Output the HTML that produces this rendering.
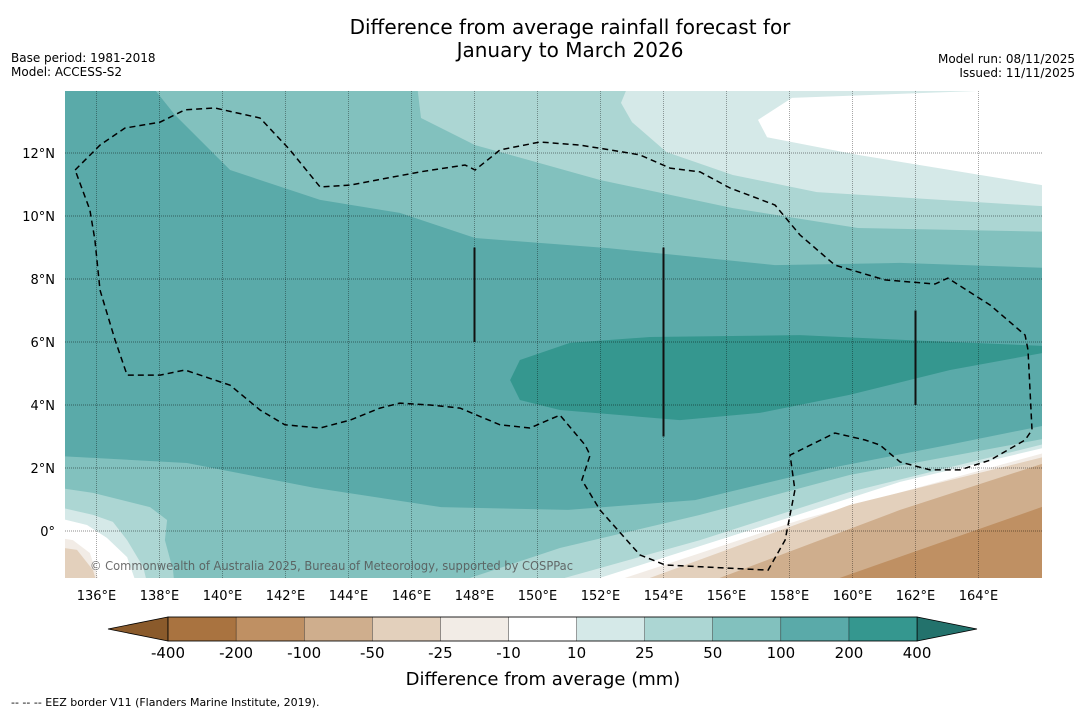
<!DOCTYPE html>
<html><head><meta charset="utf-8"><style>
body{margin:0;background:#fff;width:1085px;height:713px;overflow:hidden;font-family:"Liberation Sans","DejaVu Sans",sans-serif}
svg text{font-family:"DejaVu Sans","Liberation Sans",sans-serif}
</style></head><body>
<svg id="chart" width="1085" height="713" viewBox="0 0 1085 713" xmlns="http://www.w3.org/2000/svg">
<text x="570" y="34" font-size="20" text-anchor="middle">Difference from average rainfall forecast for</text>
<text x="570" y="57" font-size="20" text-anchor="middle">January to March 2026</text>
<text x="11" y="62" font-size="12">Base period: 1981-2018</text>
<text x="11" y="76" font-size="12">Model: ACCESS-S2</text>
<text x="1075" y="63" font-size="12" text-anchor="end">Model run: 08/11/2025</text>
<text x="1075" y="77" font-size="12" text-anchor="end">Issued: 11/11/2025</text>
<defs><clipPath id="mapclip"><rect x="65" y="91" width="977" height="487"/></clipPath></defs>
<g id="map" clip-path="url(#mapclip)"></g>
<g id="axes"></g>
<g id="legend"></g>
<text x="543" y="685" font-size="18" text-anchor="middle">Difference from average (mm)</text>
<text x="11" y="706" font-size="11">--  --  -- EEZ border V11 (Flanders Marine Institute, 2019).</text>
</svg>
<script>
const lonTicks=[136,138,140,142,144,146,148,150,152,154,156,158,160,162,164];
const latTicks=[0,2,4,6,8,10,12];
const legendLabels=["-400","-200","-100","-50","-25","-10","10","25","50","100","200","400"];
const legendColors=["#a97340","#bf9063","#cfae8d","#e3d0bc","#f2ece6","#ffffff","#d5e9e8","#acd6d3","#82c1be","#5aaaa9","#35978f"];
const bandNorth50=[[137.7,14.2],[138.49,13.21],[140.24,11.46],[143.1,10.51],[145.63,10.1],[148.02,9.3],[152.24,8.98],[157.54,8.44],[161.51,8.51],[166.2,8.35],[166.2,14.2]];
const bandNorth25=[[146.17,14.2],[146.3,13.11],[148.02,12.25],[152,11.14],[156.2,10.25],[160.17,9.62],[166.2,9.5],[166.2,14.2]];
const bandNorth10=[[152.9,14.2],[152.65,13.59],[153,12.98],[154.1,12.03],[156.2,11.3],[158.87,10.76],[166.2,10.3],[166.2,14.2]];
const bandNorthWhite=[[164.8,14],[158.08,13.75],[157,13.05],[157.29,12.5],[160.17,11.94],[166.2,10.95],[166.2,14]];
const bandCore200=[[149.13,4.79],[149.44,5.43],[151.03,5.97],[153.57,6.16],[158.33,6.22],[163.1,6.0],[166.2,5.87],[166.2,5.68],[163.1,5.11],[159.9,4.32],[157.06,3.75],[154.52,3.52],[150.71,3.84],[149.44,4.16]];
const bandSouth50=[[134.8,2.38],[138.87,2.16],[142.9,1.37],[146.94,0.76],[150.97,0.67],[155,0.98],[159,1.94],[163.03,2.73],[166.2,3.37],[166.2,-2],[134.8,-2]];
const bandSouth25=[[147.86,-1.49],[150.71,-0.54],[155.16,0.51],[159.92,1.78],[166.2,2.95],[166.2,-2],[147.6,-2]];
const bandSouth10=[[150.87,-1.49],[155.16,-0.29],[159.92,1.24],[166.2,2.79],[166.2,-2],[150.6,-2]];
const bandSouthWhite=[[151.98,-1.49],[156.75,0.03],[161.51,1.56],[166.2,2.67],[166.2,-2],[151.8,-2]];
const bandSouthM10=[[152.78,-1.49],[158.33,0.35],[166.2,2.51],[166.2,-2],[152.6,-2]];
const bandSouthM25=[[153.57,-1.49],[159.92,0.83],[166.2,2.38],[166.2,-2],[153.4,-2]];
const bandSouthM50=[[155.79,-1.49],[161.51,0.67],[166.2,2.19],[166.2,-2],[155.6,-2]];
const bandSouthM100=[[159.6,-1.49],[166.2,0.83],[166.2,-2],[159.4,-2]];
const bandLeft25=[[134.8,1.37],[135.89,1.21],[137.7,0.76],[138.24,0.35],[138.17,-0.29],[138.43,-1.24],[138.5,-2],[134.8,-2]];
const bandLeft10=[[134.8,0.76],[135.89,0.51],[136.52,0.29],[136.97,-0.29],[137.48,-1.14],[137.7,-2],[134.8,-2]];
const bandLeftWhite=[[134.8,0.41],[135.7,0.19],[136.33,-0.22],[136.97,-0.83],[137.38,-2],[134.8,-2]];
const bandLeftOff=[[134.8,-0.22],[135.25,-0.29],[135.79,-0.7],[136.21,-2],[134.8,-2]];
const bandLeftTan=[[134.8,-0.51],[135.38,-0.6],[135.89,-1.24],[136.11,-2],[134.8,-2]];
const eezBorder=[[135.32,11.46],[136.11,12.25],[136.9,12.79],[138.02,12.98],[138.81,13.37],[139.76,13.43],[141.19,13.11],[142.14,12.1],[143.1,10.92],[144.05,10.98],[146.27,11.4],[147.7,11.62],[148.02,11.46],[148.81,12.1],[150.08,12.35],[151.35,12.25],[152.3,12.1],[153.25,11.94],[154.21,11.52],[155.16,11.4],[156.11,10.89],[157.54,10.35],[158.33,9.4],[159.44,8.44],[161.03,7.97],[162.62,7.84],[163.03,8.03],[164.37,7.17],[165.48,6.22],[165.57,5.75],[165.7,3.21],[165.48,2.89],[164.37,2.25],[163.41,1.94],[162.46,1.94],[161.51,2.19],[160.87,2.73],[160.4,2.89],[159.44,3.11],[158.02,2.41],[158.17,1.3],[157.86,-0.29],[157.32,-1.24],[154.05,-1.08],[153.25,-0.76],[151.98,0.67],[151.41,1.62],[151.67,2.41],[151.51,2.73],[150.71,3.68],[149.76,3.27],[148.81,3.37],[147.54,3.9],[146.59,4.0],[145.63,4.06],[145,3.9],[144.05,3.52],[143.1,3.27],[141.98,3.37],[141.19,3.84],[140.24,4.63],[138.81,5.11],[138.02,4.95],[136.97,4.95],[136.59,6.06],[136.11,7.65],[135.95,9.24],[135.79,10.19],[135.32,11.46]];
const boundaryLons=[148,154,162];
const boundaryLatStart=[6,3,4];
const boundaryLatEnd=[9,9,7];

const NS="http://www.w3.org/2000/svg";
function xScale(lon){return 65+(lon-135)*31.5;}
function yScale(lat){return 531-lat*31.5;}
function mk(tag,attrs,parent){const e=document.createElementNS(NS,tag);for(const k in attrs)e.setAttribute(k,attrs[k]);parent.appendChild(e);return e;}
function pts(arr){return arr.map(p=>xScale(p[0]).toFixed(1)+","+yScale(p[1]).toFixed(1)).join(" ");}
const map=document.getElementById("map");
const bg=mk("rect",{x:65,y:91,width:977,height:487,fill:"#5aaaa9"},map);


const bands=[
 ["band-north-50-100",bandNorth50,"#82c1be"],["band-north-25-50",bandNorth25,"#acd6d3"],["band-north-10-25",bandNorth10,"#d5e9e8"],["band-north-neutral",bandNorthWhite,"#ffffff"],
 ["band-core-200-400",bandCore200,"#35978f"],
 ["band-south-50-100",bandSouth50,"#82c1be"],["band-south-25-50",bandSouth25,"#acd6d3"],["band-south-10-25",bandSouth10,"#d5e9e8"],["band-south-neutral",bandSouthWhite,"#ffffff"],
 ["band-south-minus10-25",bandSouthM10,"#f2ece6"],["band-south-minus25-50",bandSouthM25,"#e3d0bc"],["band-south-minus50-100",bandSouthM50,"#cfae8d"],["band-south-minus100-200",bandSouthM100,"#bf9063"],
 ["band-left-25-50",bandLeft25,"#acd6d3"],["band-left-10-25",bandLeft10,"#d5e9e8"],["band-left-neutral",bandLeftWhite,"#ffffff"],["band-left-minus10",bandLeftOff,"#f2ece6"],["band-left-minus25",bandLeftTan,"#e3d0bc"]
];
bands.forEach(b=>{
 const p=mk("polygon",{points:pts(b[1]),fill:b[2]},map);
 
 
});
lonTicks.forEach(l=>{
 const g=mk("line",{x1:xScale(l),x2:xScale(l),y1:91,y2:578,stroke:"#000","stroke-opacity":0.35,"stroke-width":1,"stroke-dasharray":"1,1"},map);
 
 
});
latTicks.forEach(l=>{
 const g=mk("line",{x1:65,x2:1042,y1:yScale(l),y2:yScale(l),stroke:"#000","stroke-opacity":0.45,"stroke-width":1,"stroke-dasharray":"1,1"},map);
 
 
});
boundaryLons.forEach((l,i)=>{
 const s=mk("line",{x1:xScale(l),x2:xScale(l),y1:yScale(boundaryLatEnd[i]),y2:yScale(boundaryLatStart[i]),stroke:"#111","stroke-width":2},map);
 
 
});
const eez=mk("polyline",{points:pts(eezBorder),fill:"none",stroke:"#000","stroke-width":1.5,"stroke-dasharray":"6,4"},map);


const cr=mk("text",{x:90,y:570,"font-size":12,fill:"#555","fill-opacity":0.85,textLength:483,lengthAdjust:"spacingAndGlyphs"},map);
cr.textContent="© Commonwealth of Australia 2025, Bureau of Meteorology, supported by COSPPac";



const axes=document.getElementById("axes");
lonTicks.forEach(l=>{
 const t=mk("text",{x:xScale(l),y:600,"font-size":13,"text-anchor":"middle"},axes);
 t.textContent=l+"°E";
 
 
});
latTicks.forEach(l=>{
 const t=mk("text",{x:55,y:yScale(l)+5,"font-size":13,"text-anchor":"end"},axes);
 t.textContent=l===0?"0°":l+"°N";
 
 
});

const lg=document.getElementById("legend");
const bx0=168,bw=68.1,by=617,bh=24;
const lt=mk("polygon",{points:`${bx0},${by} ${bx0},${by+bh} 108,${by+bh/2}`,fill:"#8a5a2b",stroke:"#000","stroke-width":0.8},lg);


const rEnd=bx0+bw*legendColors.length;
const rt=mk("polygon",{points:`${rEnd},${by} ${rEnd},${by+bh} 977,${by+bh/2}`,fill:"#23726c",stroke:"#000","stroke-width":0.8},lg);


legendColors.forEach((c,i)=>{
 const r=mk("rect",{x:bx0+i*bw,y:by,width:bw,height:bh,fill:c,stroke:"#000","stroke-width":0.3},lg);
 
 
});
mk("rect",{x:bx0,y:by,width:rEnd-bx0,height:bh,fill:"none",stroke:"#000","stroke-width":0.8},lg);
legendLabels.forEach((s,i)=>{
 const t=mk("text",{x:bx0+i*bw,y:658,"font-size":15,"text-anchor":"middle"},lg);
 t.textContent=s;
 
 
});
</script>
</body></html>
